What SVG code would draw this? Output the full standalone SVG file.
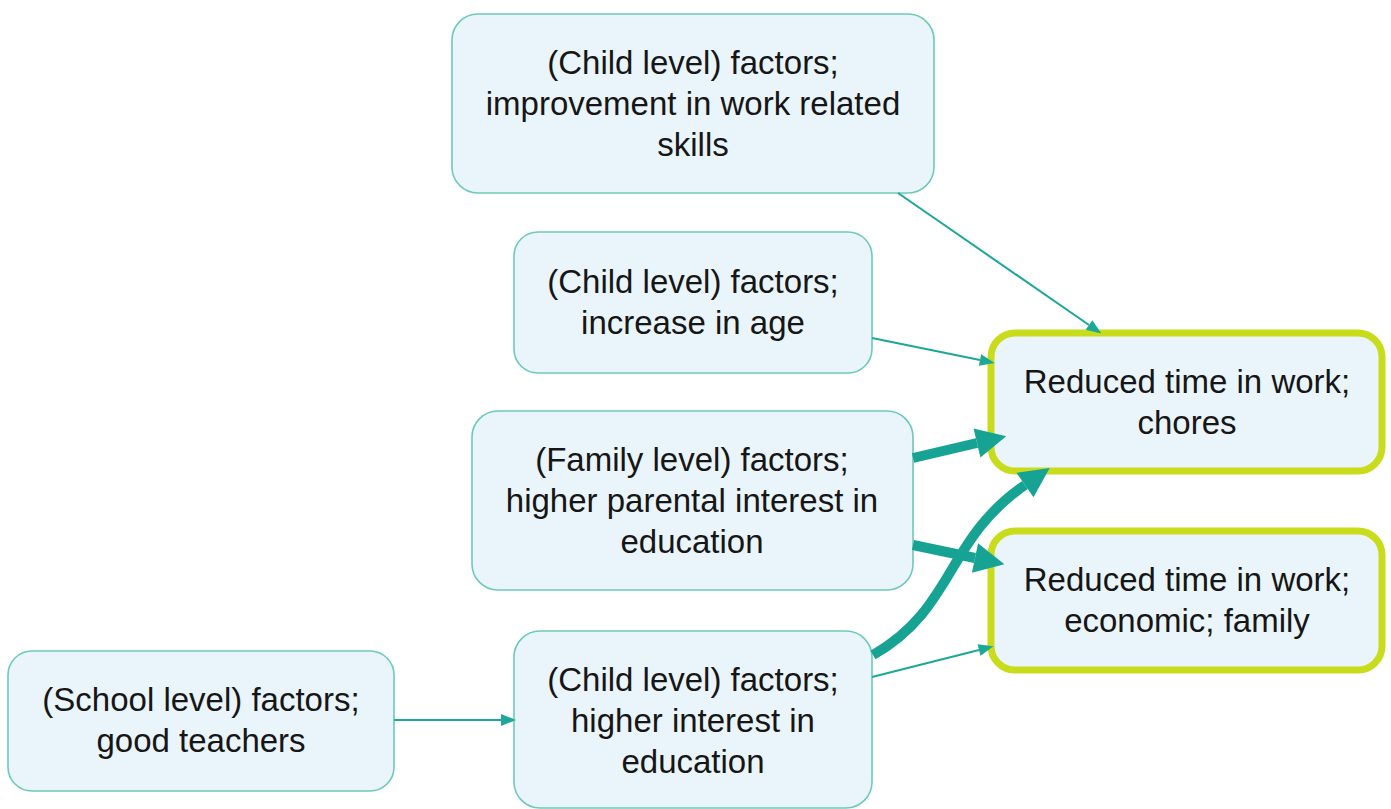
<svg xmlns="http://www.w3.org/2000/svg" width="1391" height="809" viewBox="0 0 1391 809">
<style>
.node{fill:#eaf4fb;stroke:#6ccab9;stroke-width:1.6}
.out{fill:#eaf4fb;stroke:#c9dc1c;stroke-width:7}
text{font-family:"Liberation Sans",Arial,sans-serif;font-size:33px;fill:#161616;text-anchor:middle}
.thin{fill:none;stroke:#1ca797;stroke-width:2;marker-end:url(#ah)}
.thick{fill:none;stroke:#17a394;stroke-width:10;marker-end:url(#ahb)}
</style>
<defs>
<marker id="ah" markerUnits="userSpaceOnUse" markerWidth="15" markerHeight="12" refX="0" refY="5.5" orient="auto" viewBox="0 0 14 11" overflow="visible"><path d="M0,0 L14,5.5 L0,11 z" fill="#1ca797"/></marker>
<marker id="ahb" markerUnits="userSpaceOnUse" markerWidth="30" markerHeight="30" refX="0" refY="14" orient="auto" viewBox="0 0 28 28" overflow="visible"><path d="M0,0 L28,14 L0,28 z" fill="#17a394"/></marker>
</defs>
<rect width="1391" height="809" fill="#ffffff"/>
<g id="node-skills">
<rect class="node" x="452" y="14" width="482" height="179" rx="26"/>
<text x="693" y="74">(Child level) factors;</text>
<text x="693" y="115">improvement in work related</text>
<text x="693" y="156">skills</text>
</g>
<g id="node-age">
<rect class="node" x="514" y="232" width="358" height="141" rx="24"/>
<text x="693" y="293">(Child level) factors;</text>
<text x="693" y="334">increase in age</text>
</g>
<g id="node-family">
<rect class="node" x="472" y="411" width="441" height="179" rx="26"/>
<text x="692" y="471">(Family level) factors;</text>
<text x="692" y="512">higher parental interest in</text>
<text x="692" y="553">education</text>
</g>
<g id="node-school">
<rect class="node" x="8" y="651" width="386" height="140" rx="24"/>
<text x="201" y="711">(School level) factors;</text>
<text x="201" y="752">good teachers</text>
</g>
<g id="node-interest">
<rect class="node" x="514" y="631" width="358" height="177" rx="26"/>
<text x="693" y="691">(Child level) factors;</text>
<text x="693" y="732">higher interest in</text>
<text x="693" y="773">education</text>
</g>
<g id="node-chores">
<rect class="out" x="991" y="333" width="391" height="138" rx="24"/>
<text x="1187" y="393">Reduced time in work;</text>
<text x="1187" y="434">chores</text>
</g>
<g id="node-economic">
<rect class="out" x="991" y="531" width="391" height="139" rx="24"/>
<text x="1187" y="591">Reduced time in work;</text>
<text x="1187" y="632">economic; family</text>
</g>
<g id="connectors">
<path class="thin" d="M898,193 L1089,325"/>
<path class="thin" d="M872,338 L980,360"/>
<path class="thick" d="M913,458 L977,443"/>
<path class="thick" d="M913,545 L975,558"/>
<path class="thick" d="M873,655 C955,608 945,540 1025,485"/>
<path class="thin" d="M872,677 L979,650"/>
<path class="thin" d="M394,720 L501,720"/>
</g>
</svg>
